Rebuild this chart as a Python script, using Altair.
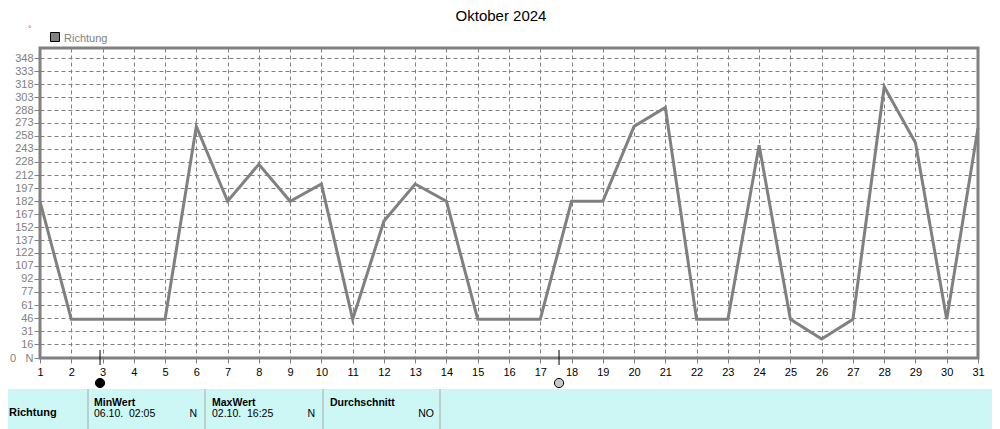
import altair as alt
import pandas as pd

# ---- data ----
days = list(range(1, 32))
richtung = [182, 45, 45, 45, 45, 269, 182, 225, 182, 202, 45, 159, 202, 182, 45,
            45, 45, 182, 182, 269, 291, 45, 45, 247, 45, 22, 45, 315, 250, 45, 267]
y_ticks = [0, 16, 31, 46, 61, 77, 92, 107, 122, 137, 152, 167, 182, 197, 212,
           228, 243, 258, 273, 288, 303, 318, 333, 348]
marker_days = [2.92, 17.6]
marker_fill = ["#000000", "#c8c8c8"]
title_text = "Oktober 2024"
series_name = "Richtung"
table_headers = ["MinWert", "MaxWert", "Durchschnitt"]
table_values = ["06.10.\u00a0\u00a002:05", "02.10.\u00a0\u00a016:25", ""]
table_units = ["N", "N", "NO"]

FONT = "Liberation Sans"
GREY = "#808080"
W, H = 938, 310

df = pd.DataFrame({"day": days, "dir": richtung})
mk = pd.DataFrame({"day": marker_days, "fill": marker_fill})
one = pd.DataFrame({"d": [0]})

xs = alt.Scale(domain=[1, 31], nice=False, zero=False)
ys = alt.Scale(domain=[0, 360], nice=False)

x_axis = alt.Axis(values=days, format="d", grid=True, gridDash=[4, 3],
                  gridColor=GREY, gridOpacity=1, tickColor=GREY, tickSize=5,
                  labelColor="#000000", labelFontSize=11, labelPadding=3,
                  labelFont=FONT, domain=False, labelFlush=False,
                  labelOverlap=False, labelBound=False)

base = alt.Chart(df).encode(
    x=alt.X("day:Q", scale=xs, title=None, axis=x_axis),
    y=alt.Y("dir:Q", scale=ys, title=None,
            axis=alt.Axis(values=y_ticks, grid=True, gridDash=[4, 3], gridColor=GREY,
                          gridOpacity=1, tickColor=GREY, tickSize=6, labelColor=GREY,
                          labelFontSize=11, labelPadding=1, labelFont=FONT,
                          domain=False, labelOverlap=False,
                          labelExpr="datum.value == 0 ? 'N' : datum.label")),
)
line = base.mark_line(color=GREY, strokeWidth=3)

# cyan table band
band = alt.Chart(one).mark_rect(color="#ccf7f5").encode(
    x=alt.value(-32), x2=alt.value(W + 14), y=alt.value(341), y2=alt.value(381))

dividers = []
for xp in [48, 165, 283, 400]:
    dividers.append(alt.Chart(one).mark_rule(color="#a8a8a8", strokeWidth=1).encode(
        x=alt.value(xp), y=alt.value(341), y2=alt.value(381)))

def txt(s, x, y, bold=False, align="left", color="#000000", size=11):
    return alt.Chart(one).mark_text(text=s, align=align, baseline="alphabetic",
                                    font=FONT, fontSize=size, color=color,
                                    fontWeight="bold" if bold else "normal").encode(
        x=alt.value(x), y=alt.value(y))

texts = [
    txt(title_text, 461, -27, size=15, align="center"),
    txt(series_name, 24, -6, color=GREY),
    txt("°", -12, -16, color=GREY, size=9),
    txt("0", -30, H + 4, color=GREY),
    txt(series_name, -31, 368, bold=True),
]
hx = [54, 172, 290]
ux = [157, 275, 394]
for h, v, u, a, b in zip(table_headers, table_values, table_units, hx, ux):
    texts.append(txt(h, a, 358, bold=True, size=10.5))
    if v:
        texts.append(txt(v, a, 369, size=10.5))
    texts.append(txt(u, b, 369, align="right", size=10.5))

legend_sq = alt.Chart(one).mark_square(size=81, fill=GREY, stroke="#000000",
                                       strokeWidth=1, opacity=1).encode(
    x=alt.value(15), y=alt.value(-11))

mk_base = alt.Chart(mk).encode(x=alt.X("day:Q", scale=xs, title=None, axis=x_axis))
mk_lines = mk_base.mark_rule(color="#000000", strokeWidth=1).encode(
    y=alt.value(302), y2=alt.value(317))
mk_pts = mk_base.mark_circle(size=85, stroke="#000000", strokeWidth=1, opacity=1).encode(
    y=alt.value(335), fill=alt.Fill("fill:N", scale=None))

chart = alt.layer(band, *dividers, line, mk_lines, mk_pts, legend_sq, *texts).properties(
    width=W, height=H,
    autosize=alt.AutoSizeParams(type="none"),
    padding={"left": 32, "top": 40, "right": 14, "bottom": 71},
    background="white",
).configure_view(stroke=GREY, strokeWidth=3).configure_axisX(labelOverlap=False)

chart.save("out.html", embed_options={"renderer": "svg", "actions": False})
